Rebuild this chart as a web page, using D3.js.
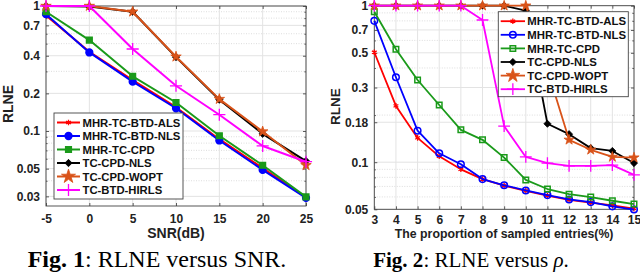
<!DOCTYPE html>
<html><head><meta charset="utf-8">
<script src="https://cdn.jsdelivr.net/npm/d3@7"></script>
<style>body{margin:0;background:#fff} svg{display:block}</style>
</head><body><svg id="c" width="640" height="275"></svg>
<script>
// ---------- data ----------
const seriesNames = ["MHR-TC-BTD-ALS","MHR-TC-BTD-NLS","MHR-TC-CPD","TC-CPD-NLS","TC-CPD-WOPT","TC-BTD-HIRLS"];
const seriesColors = ["#ff0000","#0000ff","#1a9a1a","#000000","#d95319","#ff00ff"];
const seriesMarkers = ["asterisk","circle","square","diamond","star","plus"];

// Fig. 1 : RLNE versus SNR
const snrValues = [-5, 0, 5, 10, 15, 20, 25];
const fig1ALS   = [0.84, 0.43, 0.255, 0.155, 0.086, 0.0505, 0.0295];
const fig1NLS   = [0.86, 0.425, 0.248, 0.152, 0.084, 0.0488, 0.0292];
const fig1CPD   = [0.90, 0.534, 0.274, 0.169, 0.0916, 0.0532, 0.0297];
const fig1CPDNLS= [1.0, 0.99, 0.90, 0.39, 0.178, 0.095, 0.0575];
const fig1WOPT  = [1.0, 1.0, 0.90, 0.393, 0.18, 0.099, 0.0532];
const fig1HIRLS = [1.0, 1.0, 0.453, 0.23, 0.135, 0.0759, 0.0568];
const fig1XTicks = [-5, 0, 5, 10, 15, 20, 25];
const fig1YTicks = [0.03, 0.05, 0.1, 0.2, 0.4, 0.7, 1];
const fig1YTickLabels = ["0.03","0.05","0.1","0.2","0.4","0.7","1"];

// Fig. 2 : RLNE versus rho
const rhoValues = [3, 4, 5, 6, 7, 8, 9, 10, 11, 12, 13, 14, 15];
const fig2ALS   = [0.504, 0.229, 0.143, 0.109, 0.090, 0.078, 0.0708, 0.0656, 0.0611, 0.0575, 0.0551, 0.053, 0.0505];
const fig2NLS   = [0.80, 0.349, 0.159, 0.114, 0.097, 0.078, 0.0712, 0.066, 0.0616, 0.0578, 0.0556, 0.0522, 0.0498];
const fig2CPD   = [0.915, 0.527, 0.335, 0.232, 0.161, 0.139, 0.107, 0.077, 0.0674, 0.0625, 0.0599, 0.0567, 0.054];
const fig2CPDNLS= [1, 1, 1, 1, 1, 1, 1, 0.93, 0.176, 0.151, 0.123, 0.118, 0.0987];
const fig2WOPT  = [1, 1, 1, 1, 1, 1, 1, 1, 0.39, 0.139, 0.12, 0.108, 0.107];
const fig2HIRLS = [1, 1, 1, 1, 1, 0.81, 0.17, 0.108, 0.0987, 0.0948, 0.0946, 0.0958, 0.0829];
const fig2XTicks = [3, 4, 5, 6, 7, 8, 9, 10, 11, 12, 13, 14, 15];
const fig2YTicks = [0.05, 0.1, 0.18, 0.3, 0.5, 0.7, 1];
const fig2YTickLabels = ["0.05","0.1","0.18","0.3","0.5","0.7","1"];

// ---------- drawing ----------
const svg = d3.select("#c");
const SANS = "'Liberation Sans', Arial, Helvetica, sans-serif";
const SERIF = "'Liberation Serif', 'Times New Roman', serif";

function markerPath(kind, s) {
  const map = {
    asterisk: [d3.symbolAsterisk, 22*s],
    circle:   [d3.symbolCircle, 36*s],
    square:   [d3.symbolSquare, 32*s],
    diamond:  [d3.symbolDiamond2, 34*s],
    star:     [d3.symbolStar, 34*s],
    plus:     [d3.symbolPlus, 50*s]
  };
  const m = map[kind];
  return d3.symbol().type(m[0]).size(m[1])();
}
function markerStyle(sel, kind, color, filledOpen) {
  if (kind === "asterisk" || kind === "plus") {
    sel.attr("fill", "none").attr("stroke", color).attr("stroke-width", 1.3);
  } else if (kind === "circle" || kind === "square") {
    sel.attr("fill", filledOpen ? color : "none").attr("stroke", color).attr("stroke-width", 1.5);
  } else {
    sel.attr("fill", color).attr("stroke", color).attr("stroke-width", 0.8);
  }
}

function drawPanel(o) {
  const g = svg.append("g");
  const x = d3.scaleLinear().domain(o.xDomain).range([o.left, o.right]);
  const y = d3.scaleLog().domain(o.yDomain).range([o.bottom, o.top]);

  // minor y values
  const minor = [];
  for (let d = -3; d <= 0; d++) for (let k = 1; k <= 9; k++) {
    const v = +(k * Math.pow(10, d)).toPrecision(6);
    if (v >= o.yDomain[0] * 1.0001 && v <= o.yDomain[1] * 0.9999 && !o.yTicks.some(t => Math.abs(t - v) < 1e-9)) minor.push(v);
  }
  // grid
  g.append("g").selectAll("line").data(minor).join("line")
    .attr("x1", o.left).attr("x2", o.right)
    .attr("y1", d => y(d)).attr("y2", d => y(d))
    .attr("stroke", "#d4d4d4").attr("stroke-width", 0.8).attr("stroke-dasharray", "1,1.5");
  g.append("g").selectAll("line").data(o.yTicks).join("line")
    .attr("x1", o.left).attr("x2", o.right)
    .attr("y1", d => y(d)).attr("y2", d => y(d))
    .attr("stroke", "#e3e3e3").attr("stroke-width", 1);
  g.append("g").selectAll("line").data(o.xTicks).join("line")
    .attr("x1", d => x(d)).attr("x2", d => x(d))
    .attr("y1", o.top).attr("y2", o.bottom)
    .attr("stroke", "#e3e3e3").attr("stroke-width", 1);

  // axes
  const yAxis = d3.axisLeft(y).tickValues(o.yTicks).tickFormat((d, i) => o.yTickLabels[i]).tickSize(-3).tickPadding(o.yPad);
  const xAxis = d3.axisBottom(x).tickValues(o.xTicks).tickFormat(d => String(d)).tickSize(-3).tickPadding(o.xPad);
  const ya = g.append("g").attr("transform", `translate(${o.left},0)`).call(yAxis);
  const xa = g.append("g").attr("transform", `translate(0,${o.bottom})`).call(xAxis);
  g.append("g").attr("transform", `translate(${o.right},0)`).call(d3.axisRight(y).tickValues(o.yTicks).tickFormat("").tickSize(-3));
  g.append("g").attr("transform", `translate(0,${o.top})`).call(d3.axisTop(x).tickValues(o.xTicks).tickFormat("").tickSize(-3));
  // minor ticks
  g.append("g").attr("transform", `translate(${o.left},0)`).call(d3.axisLeft(y).tickValues(minor).tickFormat("").tickSize(-1.6));
  g.append("g").attr("transform", `translate(${o.right},0)`).call(d3.axisRight(y).tickValues(minor).tickFormat("").tickSize(-1.6));
  g.selectAll(".domain").remove();
  g.selectAll(".tick line").attr("stroke", "#333").attr("stroke-width", 0.8);
  [ya, xa].forEach(a => a.selectAll("text").attr("font-family", SANS).attr("font-weight", "bold")
    .attr("font-size", o.tickFont).attr("fill", "#222"));

  g.append("rect").attr("x", o.left).attr("y", o.top).attr("width", o.right - o.left).attr("height", o.bottom - o.top)
    .attr("fill", "none").attr("stroke", "#444").attr("stroke-width", 0.9);

  // series
  const line = d3.line().x(d => x(d[0])).y(d => y(d[1]));
  o.series.forEach((vals, i) => {
    const pts = o.xValues.map((xv, j) => [xv, vals[j]]);
    const sg = g.append("g");
    sg.append("path").datum(pts).attr("d", line).attr("fill", "none")
      .attr("stroke", seriesColors[i]).attr("stroke-width", o.lineW).attr("stroke-linejoin", "round");
    sg.selectAll("path.m").data(pts).join("path").attr("class", "m")
      .attr("d", markerPath(seriesMarkers[i], o.mScale))
      .attr("transform", d => `translate(${x(d[0])},${y(d[1])})`)
      .call(markerStyle, seriesMarkers[i], seriesColors[i], o.filled);
  });

  // legend
  const L = o.legend;
  const lg = g.append("g");
  lg.append("rect").attr("x", L.x0).attr("y", L.y0).attr("width", L.x1 - L.x0).attr("height", L.y1 - L.y0)
    .attr("fill", "#fff").attr("stroke", "#444").attr("stroke-width", 0.9);
  seriesNames.forEach((name, i) => {
    const cy = L.row0 + i * L.rowH;
    lg.append("line").attr("x1", L.s0).attr("x2", L.s1).attr("y1", cy).attr("y2", cy)
      .attr("stroke", seriesColors[i]).attr("stroke-width", o.lineW);
    lg.append("path").attr("d", markerPath(seriesMarkers[i], o.mScale * (seriesMarkers[i] === "star" ? 1.8 : 1)))
      .attr("transform", `translate(${(L.s0 + L.s1) / 2},${cy})`)
      .call(markerStyle, seriesMarkers[i], seriesColors[i], o.filled);
    lg.append("text").attr("x", L.tx).attr("y", cy + 4.1).text(name)
      .attr("font-family", SANS).attr("font-weight", "bold").attr("font-size", L.font).attr("fill", "#111");
  });

  // axis titles
  g.append("text").attr("transform", `translate(${o.yTitleX},${o.yTitleY}) rotate(-90)`)
    .attr("text-anchor", "middle").text("RLNE")
    .attr("font-family", SANS).attr("font-weight", "bold").attr("font-size", o.titleFont).attr("fill", "#222");
  g.append("text").attr("x", (o.left + o.right) / 2).attr("y", o.xTitleY)
    .attr("text-anchor", "middle").text(o.xTitle)
    .attr("font-family", SANS).attr("font-weight", "bold").attr("font-size", o.xTitleFont).attr("fill", "#222");

  // caption
  const cap = g.append("text").attr("x", o.capX).attr("y", 267).attr("text-anchor", "middle")
    .attr("font-family", SERIF).attr("font-size", o.capFont).attr("fill", "#000");
  cap.append("tspan").attr("font-weight", "bold").text(o.capBold);
  o.capRest.forEach(part => {
    const t = cap.append("tspan").text(part[0]);
    if (part[1]) t.attr("font-style", "italic");
  });
}

drawPanel({
  xDomain: [-5, 25], yDomain: [Math.pow(10, -1.6), 1],
  left: 46, right: 306, top: 6, bottom: 206,
  xValues: snrValues,
  series: [fig1ALS, fig1NLS, fig1CPD, fig1CPDNLS, fig1WOPT, fig1HIRLS],
  xTicks: fig1XTicks, yTicks: fig1YTicks, yTickLabels: fig1YTickLabels,
  yPad: 6, xPad: 8, tickFont: "12px", titleFont: "14px", xTitleFont: "14px",
  lineW: 2, mScale: 1.0, filled: true,
  legend: {x0: 54, x1: 183, y0: 113, y1: 199, row0: 122.5, rowH: 13.5, s0: 57, s1: 80, tx: 82.5, font: "11.3px"},
  yTitleX: 13, yTitleY: 104, xTitle: "SNR(dB)", xTitleY: 238,
  capX: 157, capFont: "24px", capBold: "Fig. 1", capRest: [[": RLNE versus SNR.", false]]
});

drawPanel({
  xDomain: [3, 15], yDomain: [0.05, 1],
  left: 374.3, right: 634, top: 5.7, bottom: 209.3,
  xValues: rhoValues,
  series: [fig2ALS, fig2NLS, fig2CPD, fig2CPDNLS, fig2WOPT, fig2HIRLS],
  xTicks: fig2XTicks, yTicks: fig2YTicks, yTickLabels: fig2YTickLabels,
  yPad: 6, xPad: 6, tickFont: "12px", titleFont: "13.5px", xTitleFont: "12.3px",
  lineW: 1.8, mScale: 0.95, filled: false,
  legend: {x0: 498.3, x1: 628.3, y0: 11.7, y1: 96.7, row0: 21.2, rowH: 13.6, s0: 500.7, s1: 525, tx: 527.3, font: "11.4px"},
  yTitleX: 340, yTitleY: 106.5, xTitle: "The proportion of sampled entries(%)", xTitleY: 238,
  capX: 471, capFont: "21px", capBold: "Fig. 2", capRest: [[": RLNE versus ", false], ["ρ", true], [".", false]]
});
</script>
</body></html>
